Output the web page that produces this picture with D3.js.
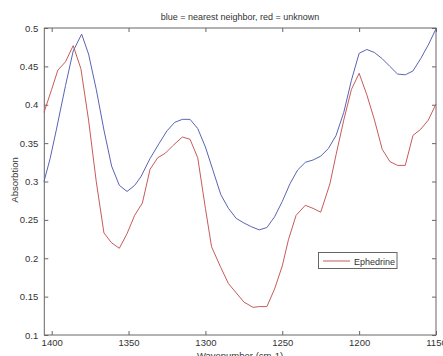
<!DOCTYPE html>
<html><head><meta charset="utf-8">
<script src="https://cdn.jsdelivr.net/npm/d3@7/dist/d3.min.js"></script>
<style>
html,body{margin:0;padding:0;background:#fff;}
text{font-family:"Liberation Sans",Arial,sans-serif;}
</style></head>
<body><svg id="c" width="443" height="356"></svg>
<script>
const blueWn = [1405,1401,1397,1391,1386,1380.5,1376,1371,1366,1361,1356,1351,1346,1342,1336,1330,1325,1320,1315,1310,1305,1300,1295,1290,1285,1280,1275,1270,1265,1260,1255,1250,1245,1240,1235,1230,1225,1220,1215,1210,1205,1200,1195,1190,1185,1180,1175,1170,1165,1160,1155,1150];
const blueVals = [0.300,0.330,0.367,0.425,0.470,0.492,0.466,0.420,0.367,0.320,0.295,0.287,0.295,0.306,0.330,0.350,0.366,0.377,0.381,0.381,0.369,0.345,0.314,0.283,0.265,0.252,0.246,0.241,0.237,0.240,0.254,0.274,0.297,0.315,0.325,0.328,0.333,0.343,0.360,0.390,0.432,0.467,0.472,0.468,0.460,0.450,0.440,0.439,0.444,0.460,0.478,0.499];
const redWn = [1405,1400,1396,1391,1386,1381,1376,1371,1366,1361,1356,1351,1346,1341,1336,1331,1326,1321,1315,1310,1305,1300,1296,1290,1285,1280,1275,1269,1265,1260,1255,1250,1246,1241,1235,1230,1225,1219,1215,1210,1205,1200,1195,1190,1185,1180,1175,1170,1165,1160,1155,1150];
const redVals = [0.390,0.420,0.445,0.456,0.477,0.447,0.380,0.300,0.233,0.220,0.213,0.232,0.256,0.272,0.316,0.331,0.337,0.347,0.358,0.355,0.331,0.265,0.215,0.188,0.167,0.155,0.143,0.136,0.137,0.137,0.160,0.190,0.224,0.256,0.269,0.265,0.260,0.297,0.335,0.380,0.420,0.441,0.413,0.380,0.342,0.326,0.321,0.321,0.360,0.368,0.380,0.401];
const xTicks = [1400,1350,1300,1250,1200,1150];
const yTicks = [0.1,0.15,0.2,0.25,0.3,0.35,0.4,0.45,0.5];
const titleText = "blue = nearest neighbor, red = unknown";
const xLabel = "Wavenumber (cm-1)";
const yLabel = "Absorbtion";
const legendLabel = "Ephedrine";

const svg = d3.select("#c");
const L=44.3, R=436, T=28, B=335;
const x = d3.scaleLinear().domain([1404.8,1150]).range([L,R]);
const y = d3.scaleLinear().domain([0.1,0.5]).range([B,T]);
const axisCol = "#666";
const txtCol = "#333";

svg.append("rect").attr("x",L).attr("y",T).attr("width",R-L).attr("height",B-T)
  .attr("fill","none").attr("stroke",axisCol).attr("stroke-width",1);

const xa = svg.append("g").attr("transform",`translate(0,${B})`)
  .call(d3.axisBottom(x).tickValues(xTicks).tickSizeInner(-4).tickSizeOuter(0).tickPadding(4).tickFormat(d3.format("d")));
const xt = svg.append("g").attr("transform",`translate(0,${T})`)
  .call(d3.axisTop(x).tickValues(xTicks).tickSizeInner(-4).tickSizeOuter(0).tickFormat(""));
const ya = svg.append("g").attr("transform",`translate(${L},0)`)
  .call(d3.axisLeft(y).tickValues(yTicks).tickSizeInner(-4).tickSizeOuter(0).tickPadding(6).tickFormat(d=>String(+d.toFixed(2))));
const yr = svg.append("g").attr("transform",`translate(${R},0)`)
  .call(d3.axisRight(y).tickValues(yTicks).tickSizeInner(-4).tickSizeOuter(0).tickFormat(""));
[xa,xt,ya,yr].forEach(g=>{
  g.select(".domain").remove();
  g.selectAll("line").attr("stroke",axisCol);
  g.selectAll("text").attr("fill",txtCol).style("font-size","9.5px");
});

const line = d3.line().x(d=>x(d[0])).y(d=>y(d[1]));
svg.append("path").datum(blueWn.map((w,i)=>[w,blueVals[i]]))
  .attr("d",line).attr("fill","none").attr("stroke","#5a64b4").attr("stroke-width",1);
svg.append("path").datum(redWn.map((w,i)=>[w,redVals[i]]))
  .attr("d",line).attr("fill","none").attr("stroke","#c85a5a").attr("stroke-width",1);

svg.append("text").attr("x",240).attr("y",20).attr("text-anchor","middle")
  .attr("fill",txtCol).style("font-size","9px").text(titleText);
svg.append("text").attr("x",240).attr("y",359).attr("text-anchor","middle")
  .attr("fill",txtCol).style("font-size","9.5px").text(xLabel);
svg.append("text").attr("transform","translate(18,180) rotate(-90)").attr("text-anchor","middle")
  .attr("fill",txtCol).style("font-size","9.5px").text(yLabel);

const lg = svg.append("g");
lg.append("rect").attr("x",318.5).attr("y",252.5).attr("width",78.5).attr("height",16)
  .attr("fill","#fff").attr("stroke",axisCol).attr("stroke-width",1);
lg.append("line").attr("x1",323).attr("x2",350).attr("y1",261).attr("y2",261)
  .attr("stroke","#c85a5a").attr("stroke-width",1);
lg.append("text").attr("x",354).attr("y",264.5).attr("fill",txtCol).style("font-size","9px").text(legendLabel);
</script></body></html>
